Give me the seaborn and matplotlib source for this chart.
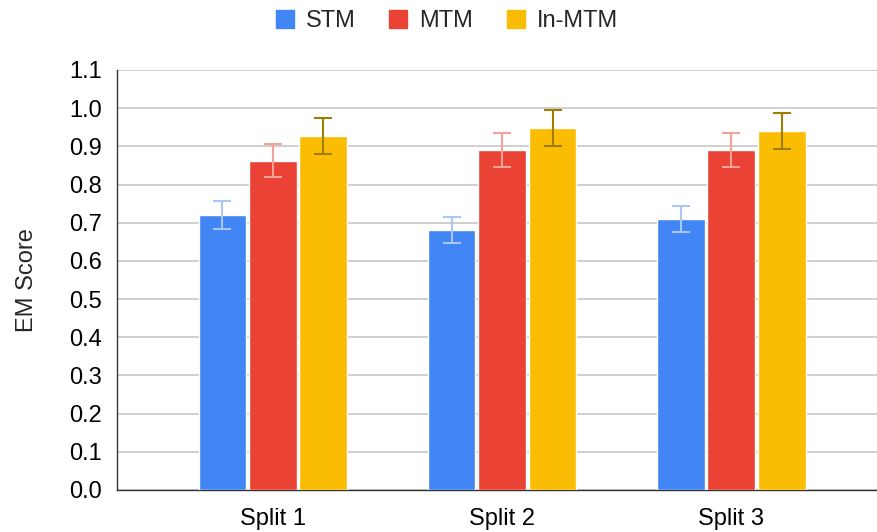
import matplotlib
matplotlib.use("Agg")
import matplotlib.pyplot as plt
import seaborn as sns
import pandas as pd
import numpy as np
from matplotlib.lines import Line2D

splits = ["Split 1", "Split 2", "Split 3"]
models = ["STM", "MTM", "In-MTM"]
stm = [0.72, 0.68, 0.71]
mtm = [0.862, 0.89, 0.89]
inmtm = [0.927, 0.948, 0.94]
stm_err = [0.036, 0.034, 0.035]
mtm_err = [0.043, 0.044, 0.044]
inmtm_err = [0.047, 0.047, 0.047]
yticks = [0.0, 0.1, 0.2, 0.3, 0.4, 0.5, 0.6, 0.7, 0.8, 0.9, 1.0, 1.1]

bar_colors = ["#4285F4", "#EA4335", "#FBBC04"]
err_colors = ["#A9C6F7", "#F4A19A", "#A07C00"]

df = pd.DataFrame({
    "Split": splits * 3,
    "Model": [m for m in models for _ in splits],
    "Score": stm + mtm + inmtm,
})
errs = {"STM": stm_err, "MTM": mtm_err, "In-MTM": inmtm_err}

sns.set_style("white")
plt.rcParams["font.family"] = ["Liberation Sans", "DejaVu Sans"]

FS = 17

fig = plt.figure(figsize=(8.78, 5.32), dpi=100)
ax = fig.add_axes([117/878, 1-490/532, 1-117/878, (490-70)/532])

sns.barplot(data=df, x="Split", y="Score", hue="Model", order=splits,
            hue_order=models, palette=bar_colors, width=0.66, gap=0.055,
            errorbar=None, ax=ax, legend=False, saturation=1, zorder=3)

for mi, m in enumerate(models):
    cont = ax.containers[mi]
    xs = [p.get_x() + p.get_width()/2 for p in cont.patches]
    ys = [p.get_height() for p in cont.patches]
    ax.errorbar(xs, ys, yerr=errs[m], fmt="none", ecolor=err_colors[mi],
                elinewidth=1.5, capsize=6.8, capthick=1.5, zorder=4)

ax.set_ylim(0, 1.1)
ax.set_xlim(-0.68, 2.64)
ax.set_yticks(yticks)
ax.set_yticklabels([f"{v:.1f}" for v in yticks])
ax.yaxis.grid(True, color="#cccccc", linewidth=1.3, zorder=0)
ax.set_axisbelow(True)
ax.tick_params(axis="y", length=0, labelsize=FS, colors="#000000", pad=11)
ax.tick_params(axis="x", length=0, labelsize=FS, colors="#000000", pad=13)
ax.set_xlabel("")
ax.set_ylabel("EM Score", fontsize=FS, labelpad=22)
for s in ["top", "right"]:
    ax.spines[s].set_visible(False)
for s in ["left", "bottom"]:
    ax.spines[s].set_color("#333333")
    ax.spines[s].set_linewidth(1.0)

handles = [Line2D([0], [0], marker="s", linestyle="none", markersize=13,
                  markerfacecolor=c, markeredgecolor=c) for c in bar_colors]
fig.legend(handles, models, loc="center", bbox_to_anchor=(445/878, 1-21/532),
           ncol=3, frameon=False, fontsize=FS, handletextpad=0.35,
           columnspacing=1.25, handlelength=1.1)

fig.savefig("out.png", dpi=100)
